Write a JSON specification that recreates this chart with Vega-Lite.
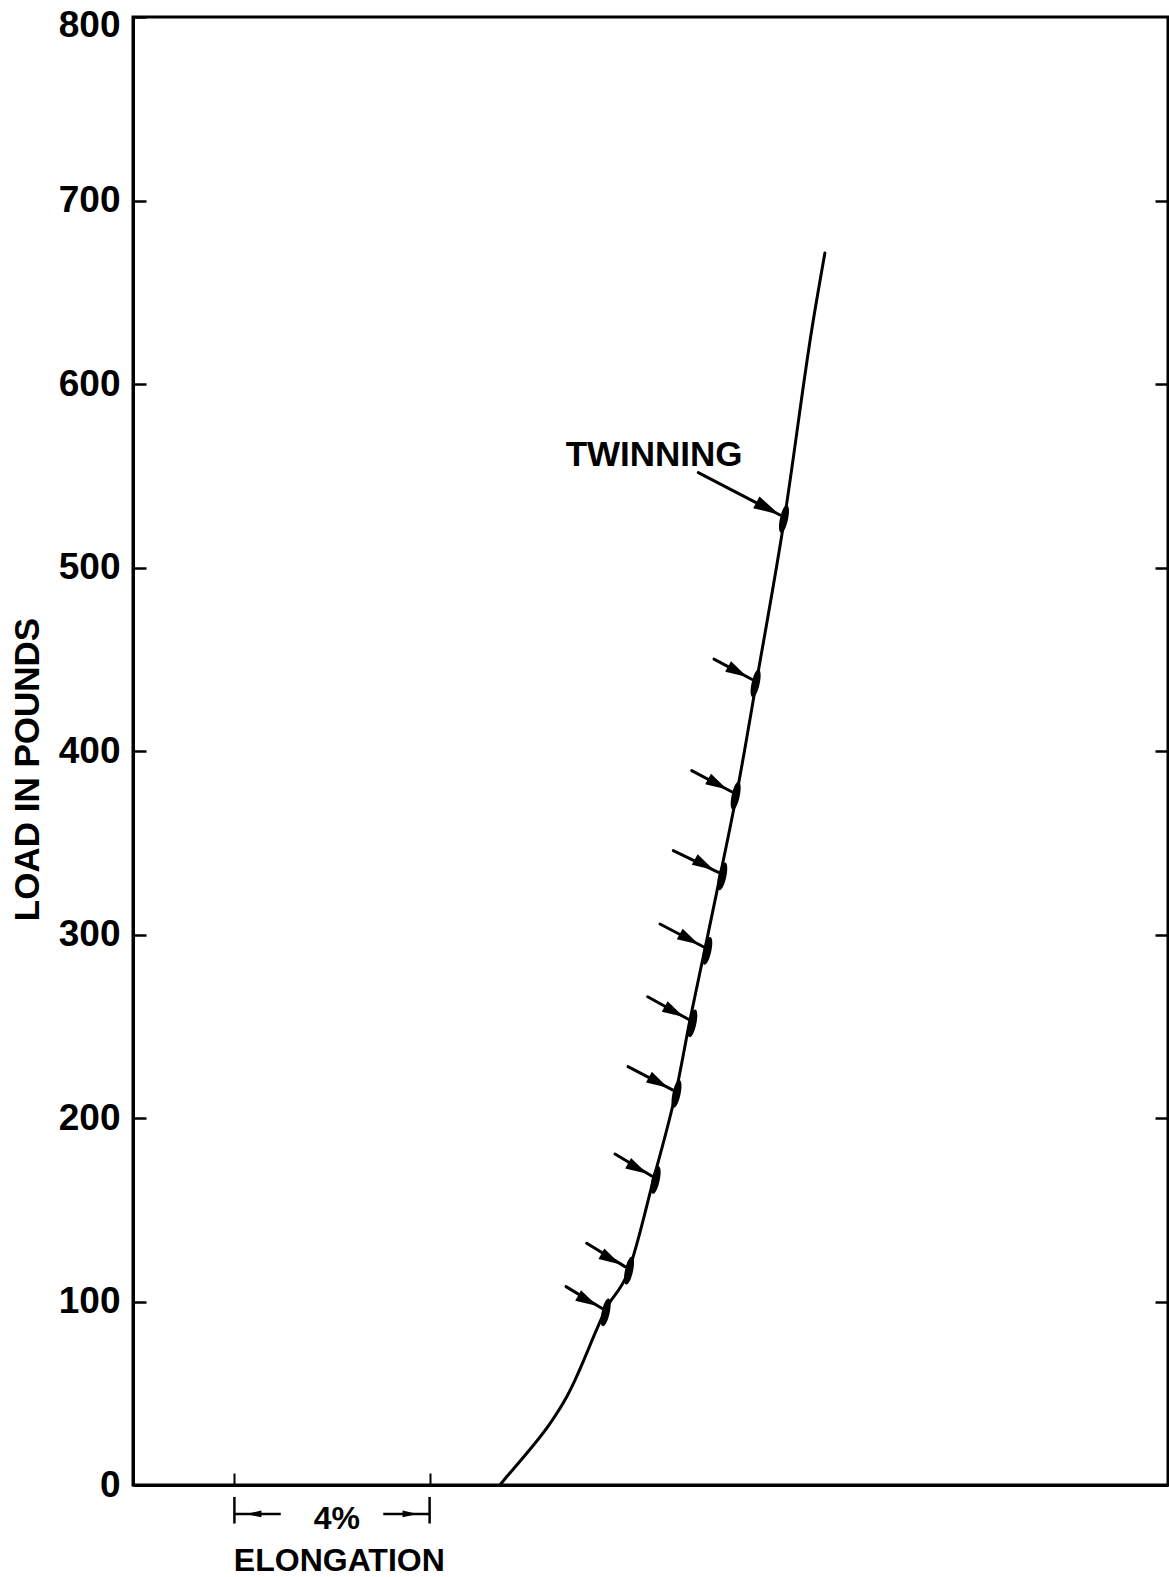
{
  "$schema": "https://vega.github.io/schema/vega-lite/v6.json",
  "width": 1035,
  "height": 1468,
  "autosize": {"type": "none"},
  "padding": {"left": 133, "top": 17, "right": 1, "bottom": 92},
  "background": "white",
  "config": {
    "font": "Liberation Sans",
    "view": {"stroke": "black", "strokeWidth": 3},
    "axis": {"grid": false, "domainColor": "black", "tickColor": "black", "labelColor": "black", "titleColor": "black"}
  },
  "datasets": {
    "curve": [
      {"e": 5.44, "load": 0},
      {"e": 5.58, "load": 4.5},
      {"e": 5.99, "load": 17.3},
      {"e": 6.47, "load": 33.6},
      {"e": 6.81, "load": 48.1},
      {"e": 6.98, "load": 57.2},
      {"e": 7.42, "load": 84.5},
      {"e": 7.59, "load": 94.8},
      {"e": 8.06, "load": 115.5},
      {"e": 8.6, "load": 167.8},
      {"e": 9.06, "load": 215.8},
      {"e": 9.34, "load": 254},
      {"e": 9.65, "load": 293.2},
      {"e": 9.97, "load": 334.1},
      {"e": 10.3, "load": 377.7},
      {"e": 10.7, "load": 438.1},
      {"e": 11.26, "load": 524.8},
      {"e": 11.84, "load": 631.1},
      {"e": 12.1, "load": 671.4}
    ],
    "arrows": [
      {"e": 9.506, "load": 551.7, "e2": 11.18, "load2": 528.6, "kind": "label"},
      {"e": 9.828, "load": 450.1, "e2": 10.6, "load2": 439.1, "kind": "event"},
      {"e": 9.371, "load": 389.3, "e2": 10.19, "load2": 377.8, "kind": "event"},
      {"e": 8.994, "load": 345.7, "e2": 9.916, "load2": 333.9, "kind": "event"},
      {"e": 8.721, "load": 305.7, "e2": 9.609, "load2": 293.3, "kind": "event"},
      {"e": 8.469, "load": 266.1, "e2": 9.301, "load2": 253.8, "kind": "event"},
      {"e": 8.066, "load": 228.0, "e2": 8.977, "load2": 215.3, "kind": "event"},
      {"e": 7.799, "load": 180.4, "e2": 8.551, "load2": 168.4, "kind": "event"},
      {"e": 7.219, "load": 131.7, "e2": 8.004, "load2": 119.0, "kind": "event"},
      {"e": 6.795, "load": 108.1, "e2": 7.527, "load2": 96.3, "kind": "event"}
    ],
    "barEnds": [
      {"e": 0, "lo": -21, "hi": -6.5},
      {"e": 4, "lo": -21, "hi": -6.5}
    ],
    "barLines": [
      {"e": 0, "e2": 0.95, "load": -15.8, "dir": "left", "head": 0.4},
      {"e": 3.05, "e2": 4, "load": -15.8, "dir": "right", "head": 3.6}
    ],
    "labels": [
      {"e": 8.6, "load": 561.3, "text": "TWINNING", "size": "big"},
      {"e": 2.1, "load": -18.3, "text": "4%", "size": "small"},
      {"e": 2.15, "load": -41.2, "text": "ELONGATION", "size": "small"}
    ]
  },
  "resolve": {"axis": {"y": "independent"}},
  "layer": [
    {
      "data": {"name": "curve"},
      "mark": {"type": "line", "color": "black", "strokeWidth": 3, "strokeCap": "round", "interpolate": "monotone"},
      "encoding": {
        "x": {
          "field": "e", "type": "quantitative",
          "scale": {"domain": [-2.078, 19.131], "nice": false, "zero": false},
          "axis": {"values": [0, 4], "labels": false, "title": null, "tickSize": -12, "tickWidth": 2, "domainWidth": 3}
        },
        "y": {
          "field": "load", "type": "quantitative",
          "scale": {"domain": [0, 800], "nice": false},
          "axis": {
            "values": [0, 100, 200, 300, 400, 500, 600, 700, 800],
            "tickSize": -13, "tickWidth": 2.5, "domainWidth": 3,
            "labelFontSize": 37, "labelFontWeight": "bold", "labelPadding": 26,
            "labelOffset": {"condition": {"test": "datum.value == 800", "value": 8}, "value": 0},
            "title": "LOAD IN POUNDS", "titleFontSize": 35, "titleFontWeight": "bold",
            "titleAngle": 270, "titleX": -106, "titleY": 752, "titleAlign": "center", "titleBaseline": "middle"
          }
        }
      }
    },
    {
      "data": {"name": "arrows"},
      "mark": {"type": "rule", "color": "black", "strokeWidth": 3, "strokeCap": "round"},
      "encoding": {
        "x": {"field": "e", "type": "quantitative"},
        "y": {"field": "load", "type": "quantitative", "axis": null},
        "x2": {"field": "e2"},
        "y2": {"field": "load2"}
      }
    },
    {
      "data": {"name": "arrows"},
      "transform": [{"filter": "datum.kind == 'event'"}],
      "mark": {"type": "point", "shape": "M-1,-0.55L1,0L-1,0.55Z", "filled": true, "color": "black", "opacity": 1, "size": 480, "angle": 29, "xOffset": -14, "yOffset": -7.5},
      "encoding": {
        "x": {"field": "e2", "type": "quantitative"},
        "y": {"field": "load2", "type": "quantitative", "axis": null}
      }
    },
    {
      "data": {"name": "arrows"},
      "transform": [{"filter": "datum.kind == 'label'"}],
      "mark": {"type": "point", "shape": "M-1,-0.5L1,0L-1,0.5Z", "filled": true, "color": "black", "opacity": 1, "size": 700, "angle": 28, "xOffset": -12, "yOffset": -6.5},
      "encoding": {
        "x": {"field": "e2", "type": "quantitative"},
        "y": {"field": "load2", "type": "quantitative", "axis": null}
      }
    },
    {
      "data": {"name": "arrows"},
      "mark": {"type": "point", "shape": "M0,-1C0.38,-1 0.38,1 0,1C-0.38,1 -0.38,-1 0,-1Z", "filled": true, "color": "black", "opacity": 1, "size": 800, "angle": 12, "xOffset": 4, "yOffset": 4},
      "encoding": {
        "x": {"field": "e2", "type": "quantitative"},
        "y": {
          "field": "load2", "type": "quantitative",
          "axis": {"orient": "right", "values": [100, 200, 300, 400, 500, 600, 700], "labels": false, "title": null, "tickSize": -13, "tickWidth": 2.5, "domain": false}
        }
      }
    },
    {
      "data": {"name": "barEnds"},
      "mark": {"type": "rule", "color": "black", "strokeWidth": 2.5},
      "encoding": {
        "x": {"field": "e", "type": "quantitative"},
        "y": {"field": "lo", "type": "quantitative", "axis": null},
        "y2": {"field": "hi"}
      }
    },
    {
      "data": {"name": "barLines"},
      "mark": {"type": "rule", "color": "black", "strokeWidth": 2.5},
      "encoding": {
        "x": {"field": "e", "type": "quantitative"},
        "x2": {"field": "e2"},
        "y": {"field": "load", "type": "quantitative", "axis": null}
      }
    },
    {
      "data": {"name": "barLines"},
      "mark": {"type": "point", "shape": "M-1,-0.45L1,0L-1,0.45Z", "filled": true, "color": "black", "opacity": 1, "size": 225},
      "encoding": {
        "x": {"field": "head", "type": "quantitative"},
        "y": {"field": "load", "type": "quantitative", "axis": null},
        "angle": {"field": "dir", "type": "nominal", "scale": {"domain": ["left", "right"], "range": [180, 0]}, "legend": null}
      }
    },
    {
      "data": {"name": "labels"},
      "mark": {"type": "text", "color": "black", "fontWeight": "bold", "align": "center", "baseline": "middle"},
      "encoding": {
        "x": {"field": "e", "type": "quantitative"},
        "y": {"field": "load", "type": "quantitative", "axis": null},
        "text": {"field": "text"},
        "size": {"field": "size", "type": "nominal", "scale": {"domain": ["big", "small"], "range": [35, 32]}, "legend": null}
      }
    }
  ]
}
